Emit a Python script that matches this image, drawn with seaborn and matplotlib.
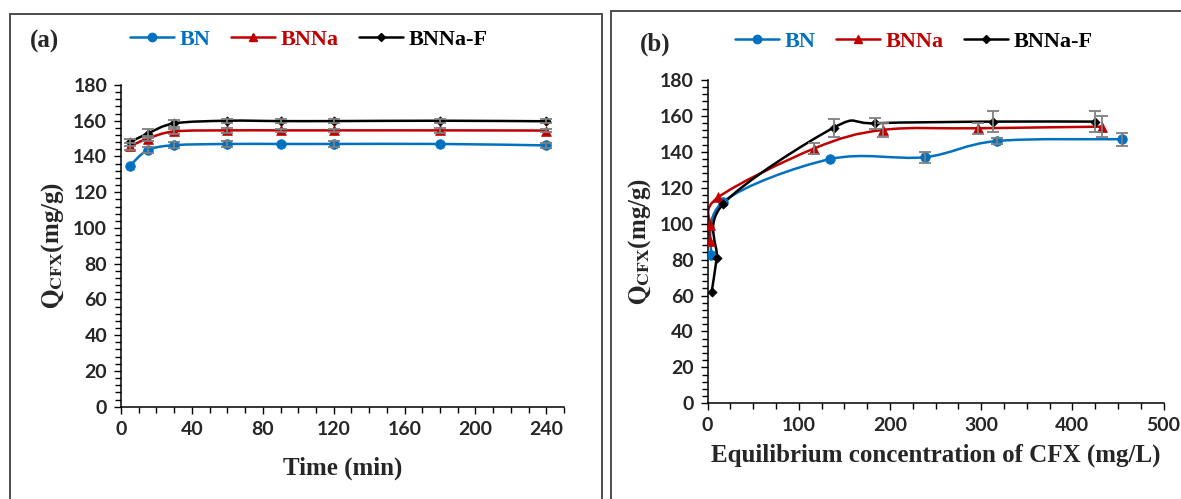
import numpy as np
import seaborn as sns
import matplotlib.pyplot as plt
from matplotlib.path import Path
from matplotlib.patches import PathPatch, Rectangle
from matplotlib.lines import Line2D
from matplotlib.ticker import MultipleLocator

# (a) kinetics
time_min = [5, 15, 30, 60, 90, 120, 180, 240]
bn_time = [134.8, 143.5, 146.3, 147.0, 147.0, 147.0, 147.0, 146.2]
bnna_time = [145.7, 150.0, 154.0, 154.6, 154.6, 154.6, 154.6, 154.5]
bnnaf_time = [148.0, 152.8, 158.5, 160.0, 159.8, 159.8, 160.0, 159.7]
bn_time_err = [0, 1.8, 1.8, 1.8, 0, 1.5, 0, 1.5]
bnna_time_err = [2.0, 1.5, 1.5, 1.2, 1.0, 1.0, 1.2, 1.0]
bnnaf_time_err = [2.0, 2.5, 2.0, 1.2, 1.0, 1.0, 1.0, 1.2]

# (b) isotherms
bn_ce = [3.3, 17.1, 134, 238, 317, 455]
bn_q = [82.6, 112.2, 135.9, 137.0, 146.0, 147.0]
bn_q_err = [0, 0, 0, 3.0, 1.5, 3.5]
bnna_ce = [2.5, 2.5, 11.6, 116.6, 192.5, 297, 433]
bnna_q = [90.5, 99.3, 114.7, 141.8, 152.2, 153.1, 154.0]
bnna_q_err = [0, 0, 0, 3.0, 4.0, 3.0, 6.0]
bnnaf_ce = [4.4, 9.9, 17.1, 138.5, 184, 313, 425]
bnnaf_q = [62.1, 80.7, 111.0, 153.5, 155.9, 156.8, 156.8]
bnnaf_q_err = [0, 0, 0, 5.0, 3.0, 6.0, 6.0]

names = ['BN', 'BNNa', 'BNNa-F']
colors = ['#0070C0', '#C00000', '#000000']
markers = ['o', '^', 'D']
msizes = [48, 50, 22]

sns.set_style('ticks')
plt.rcParams['font.family'] = ['Lato', 'DejaVu Sans']
plt.rcParams['mathtext.fontset'] = 'stix'

SERIF = ['Liberation Serif', 'DejaVu Serif']


def smooth_path(x, y):
    # Excel-like smoothed line: cubic Bezier segments through the data points
    pts = np.column_stack([x, y]).astype(float)
    n = len(pts)
    verts = [pts[0]]
    codes = [Path.MOVETO]
    for i in range(n - 1):
        p0 = pts[i - 1] if i > 0 else pts[i]
        p1, p2 = pts[i], pts[i + 1]
        p3 = pts[i + 2] if i + 2 < n else pts[i + 1]
        verts += [p1 + (p2 - p0) / 6, p2 - (p3 - p1) / 6, p2]
        codes += [Path.CURVE4] * 3
    return Path(verts, codes)


def draw_series(ax, x, y, err, color, marker, ms):
    ax.add_patch(PathPatch(smooth_path(x, y), facecolor='none', edgecolor=color,
                           lw=1.8, zorder=2))
    sns.scatterplot(x=x, y=y, ax=ax, color=color, marker=marker, s=ms,
                    edgecolor=color, linewidth=0.5, zorder=3, legend=False)
    x, y, err = np.array(x), np.array(y), np.array(err)
    m = err > 0
    ax.errorbar(x[m], y[m], yerr=err[m], fmt='none', ecolor='#7f7f7f',
                elinewidth=1.3, capsize=4, capthick=1.3, zorder=4)


def style_axes(ax, xmax, xminor, xticks):
    ax.set_ylim(0, 180)
    ax.set_xlim(0, xmax)
    ax.yaxis.set_major_locator(MultipleLocator(20))
    ax.yaxis.set_minor_locator(MultipleLocator(4))
    ax.set_xticks(xticks)
    ax.xaxis.set_minor_locator(MultipleLocator(xminor))
    ax.tick_params(which='both', direction='out', color='black', width=1,
                   labelsize=14, pad=5)
    ax.tick_params(which='major', length=5)
    ax.tick_params(which='minor', length=4)
    for lab in ax.get_xticklabels() + ax.get_yticklabels():
        lab.set_fontweight('bold')
    sns.despine(ax=ax)
    for s in ['left', 'bottom']:
        ax.spines[s].set_color('black')
        ax.spines[s].set_linewidth(1.1)
    ax.set_ylabel(r'$\mathbf{Q}_{\mathbf{CFX}}$(mg/g)', fontsize=18,
                  fontweight='bold', family=SERIF, labelpad=5)


fig = plt.figure(figsize=(11.81, 4.99), dpi=100)
ax1 = fig.add_axes([0.1025, 0.185, 0.3751, 0.6447])
ax2 = fig.add_axes([0.5992, 0.1918, 0.386, 0.648])

for x, y, e, c, mk, ms in zip([time_min] * 3, [bn_time, bnna_time, bnnaf_time],
                              [bn_time_err, bnna_time_err, bnnaf_time_err],
                              colors, markers, msizes):
    draw_series(ax1, x, y, e, c, mk, ms)
for x, y, e, c, mk, ms in zip([bn_ce, bnna_ce, bnnaf_ce], [bn_q, bnna_q, bnnaf_q],
                              [bn_q_err, bnna_q_err, bnnaf_q_err],
                              colors, markers, msizes):
    draw_series(ax2, x, y, e, c, mk, ms)

style_axes(ax1, 250, 10, [0, 40, 80, 120, 160, 200, 240])
style_axes(ax2, 500, 25, [0, 100, 200, 300, 400, 500])
ax1.set_xlabel('Time (min)', fontsize=18, fontweight='bold', family=SERIF, labelpad=14)
ax2.set_xlabel('Equilibrium concentration of CFX (mg/L)', fontsize=18,
               fontweight='bold', family=SERIF, labelpad=7)

# panel frames
fig.add_artist(Rectangle((10 / 1181, -0.1), (601.5 - 10) / 1181, 1.1 - 14 / 499,
                         transform=fig.transFigure, fill=False, ec='#404040', lw=1.3))
fig.add_artist(Rectangle((610.7 / 1181, -0.1), 0.6, 1.1 - 11 / 499,
                         transform=fig.transFigure, fill=False, ec='#404040', lw=1.3))

fig.text(30 / 1181, 1 - 41 / 499, '(a)', fontsize=18, fontweight='bold', family=SERIF,
         va='center')
fig.text(640 / 1181, 1 - 44 / 499, '(b)', fontsize=18, fontweight='bold', family=SERIF,
         va='center')

handles = [Line2D([], [], color=c, marker=mk, lw=1.8, markersize=ms)
           for c, mk, ms in zip(colors, markers, [6, 6, 4])]
for cx, cy in [(309 / 1181, 1 - 40 / 499), (914 / 1181, 1 - 42 / 499)]:
    leg = fig.legend(handles, names, loc='center', bbox_to_anchor=(cx, cy), ncol=3,
                     frameon=False, handlelength=2.0, handletextpad=0.25,
                     columnspacing=0.9, prop={'family': SERIF, 'weight': 'bold',
                                              'size': 16})
    for t, c in zip(leg.get_texts(), colors):
        t.set_color(c)

fig.savefig('out.png', dpi=100)
